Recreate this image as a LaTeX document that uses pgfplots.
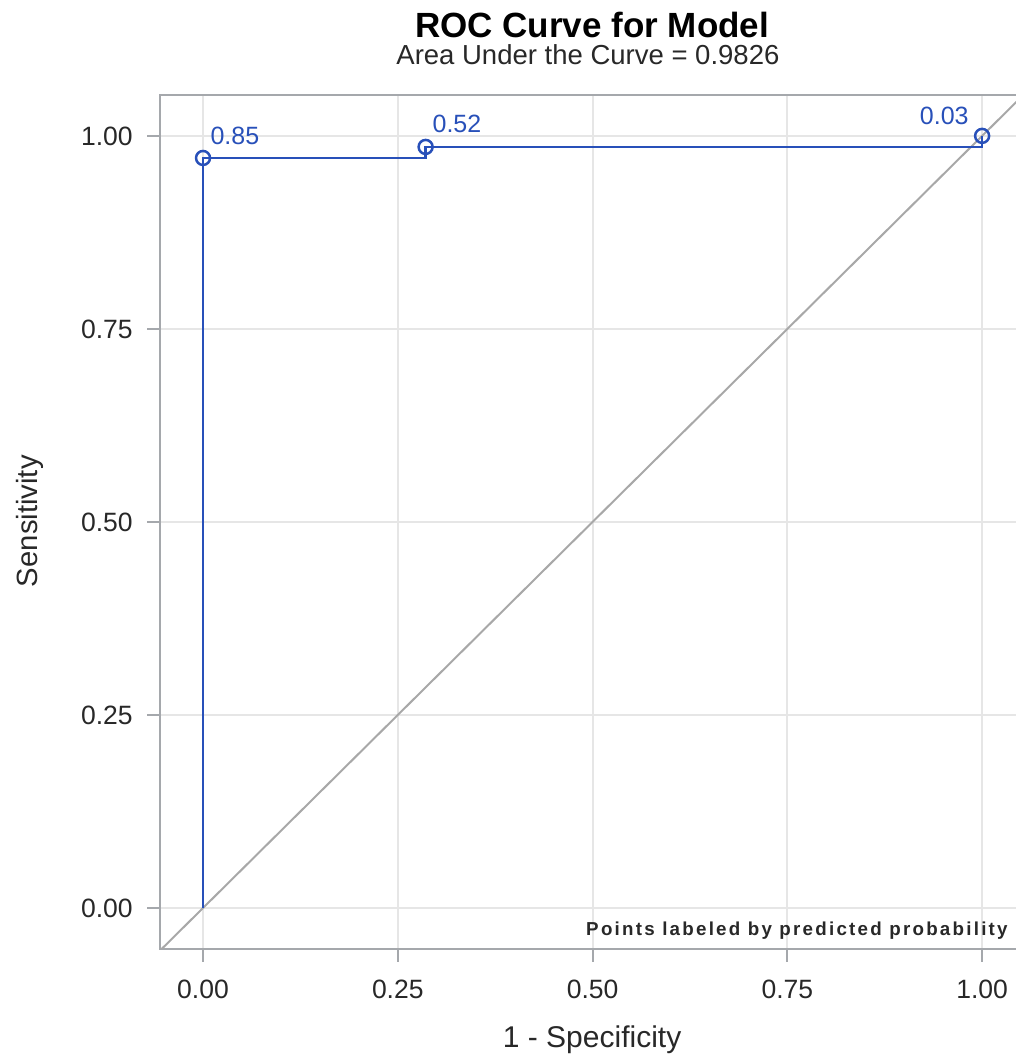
\documentclass[border=0pt]{standalone}
\usepackage{pgfplots}
\pgfplotsset{compat=1.18}
\usepackage{fontspec}
\setmainfont{Liberation Sans}
\newfontfamily\spacedfont[LetterSpace=12]{Liberation Sans}
\definecolor{rocblue}{RGB}{40,80,185}
\definecolor{gridc}{RGB}{230,230,230}
\definecolor{framec}{RGB}{165,168,172}
\definecolor{diagc}{RGB}{168,168,168}
\definecolor{txt}{RGB}{40,40,40}
\begin{document}
\begin{tikzpicture}
\begin{axis}[
  x=311.6pt, y=308.8pt,
  xmin=-0.055, xmax=1.053, ymin=-0.053, ymax=1.053,
  xtick={0,0.25,0.5,0.75,1}, ytick={0,0.25,0.5,0.75,1},
  tick pos=left, tick align=outside, major tick length=5.2pt,
  every tick/.style={framec, line width=0.8pt},
  axis line style={framec, line width=0.8pt},
  grid=major, major grid style={gridc, line width=0.8pt},
  /pgf/number format/.cd, fixed, fixed zerofill, precision=2, assume math mode=true, /pgfplots/.cd,
  ticklabel style={font=\fontsize{10.6}{12}\selectfont, text=txt},
  xticklabel style={anchor=base, inner sep=0pt, yshift=-14.8pt},
  yticklabel style={anchor=east, inner sep=0pt, xshift=-5.6pt},
  clip mode=individual,
]
\addplot[diagc, line width=0.8pt] coordinates {(-0.2,-0.2) (1.2,1.2)};
\addplot[rocblue, line width=0.9pt] coordinates {(0,0) (0,0.9714) (0.2857,0.9714) (0.2857,0.9857) (1,0.9857) (1,1)};
\addplot[rocblue, only marks, mark=o, mark size=2.8pt, line width=1pt] coordinates {(0,0.9714) (0.2857,0.9857) (1,1)};
\node[anchor=base west, xshift=2.8pt, yshift=5.2pt, inner sep=0pt, text=rocblue, font=\fontsize{10}{12}\selectfont] at (axis cs:0,0.9714) {0.85};
\node[anchor=base west, xshift=2.6pt, yshift=5.6pt, inner sep=0pt, text=rocblue, font=\fontsize{10}{12}\selectfont] at (axis cs:0.2857,0.9857) {0.52};
\node[anchor=base east, xshift=-5.2pt, yshift=4.4pt, inner sep=0pt, text=rocblue, font=\fontsize{10}{12}\selectfont] at (axis cs:1,1) {0.03};
\node[anchor=base east, inner sep=0pt, font=\spacedfont\bfseries\fontsize{7.5}{9}\selectfont, text=txt] at (axis cs:1.0334,-0.035) {Points labeled by predicted probability};
\node[anchor=base, inner sep=0pt, font=\bfseries\fontsize{14}{16}\selectfont] at (axis cs:0.4994,1.128) {ROC Curve for Model};
\node[anchor=base, inner sep=0pt, font=\fontsize{11}{13}\selectfont, text=txt] at (axis cs:0.494,1.092) {Area Under the Curve = 0.9826};
\node[anchor=base, inner sep=0pt, font=\fontsize{12}{14}\selectfont, text=txt] at (axis cs:0.4994,-0.181) {1 - Specificity};
\node[anchor=base, inner sep=0pt, rotate=90, font=\fontsize{11.7}{14}\selectfont, text=txt] at (axis cs:-0.2131,0.501) {Sensitivity};
\coordinate (bbsw) at (axis cs:-0.2606,-0.193);
\coordinate (bbne) at (axis cs:1.0424,1.176);
\end{axis}
\pgfresetboundingbox
\useasboundingbox (bbsw) rectangle (bbne);
\end{tikzpicture}
\end{document}
